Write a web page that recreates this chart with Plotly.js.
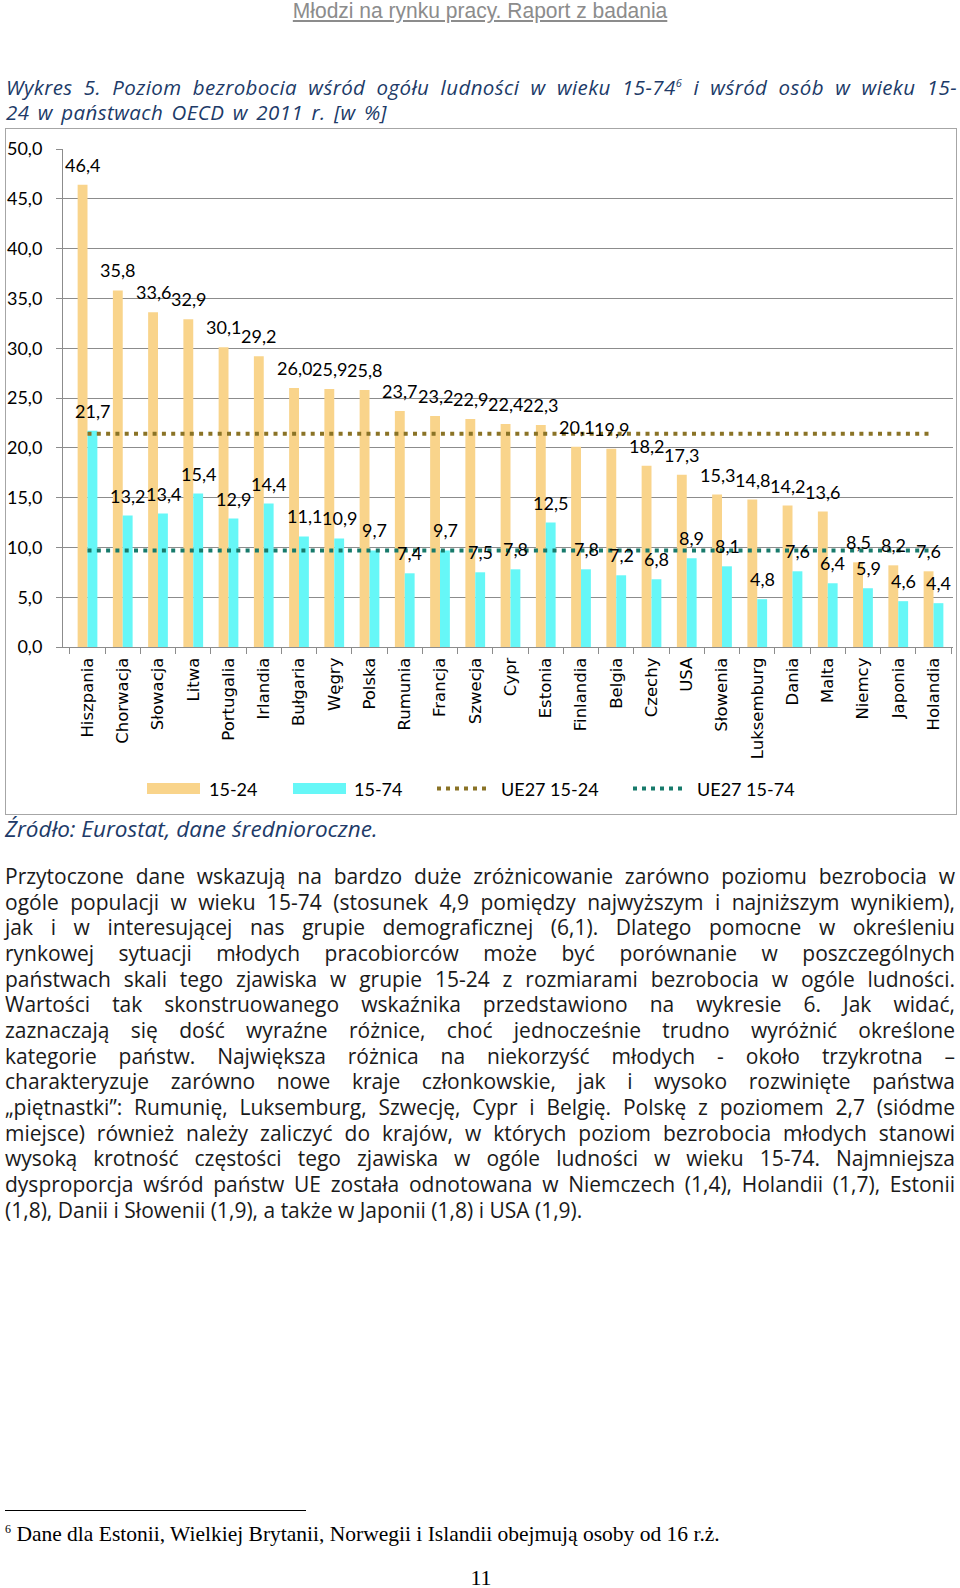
<!DOCTYPE html>
<html>
<head>
<meta charset="utf-8">
<script src="https://cdn.plot.ly/plotly-3.0.1.min.js"></script>
<style>
  html, body { margin: 0; padding: 0; background: #ffffff; }
  body { width: 960px; height: 1588px; position: relative; overflow: hidden; }
  .abs { position: absolute; }
  .jline { display: block; white-space: nowrap; }
  .jline span { display: inline-block; white-space: nowrap; }
  #header { left: 0; width: 960px; top: 0px; text-align: center; font-family: "Liberation Sans Narrow", "Liberation Sans", sans-serif; font-size: 22px; color: #8c8c8c; line-height: 22px; }
  #header span { text-decoration: underline; display: inline-block; transform: scaleX(0.955); }
  #title { left: 6px; top: 75px; width: 951px; font-family: "Open Sans", sans-serif; font-style: italic; font-size: 20.5px; letter-spacing: 0.4px; color: #203a68; line-height: 25px; }
  #title sup { font-size: 11px; line-height: 0; }
  #box { left: 5px; top: 128px; width: 952px; height: 687px; border: 1px solid #a6a6a6; box-sizing: border-box; }
  #chart { left: 5px; top: 129px; width: 952px; height: 686px; }
  #source { left: 5px; top: 815px; font-family: "Open Sans", sans-serif; font-style: italic; font-size: 22.5px; color: #203a68; line-height: 28px; white-space: nowrap; }
  #para { left: 5px; top: 864px; width: 950px; font-family: "Open Sans", sans-serif; font-size: 21px; color: #1a1a1a; line-height: 25.65px; }
  #fnline { left: 5px; top: 1510px; width: 301px; height: 0; border-top: 1px solid #000; }
  #footnote { left: 5px; top: 1521px; font-family: "Liberation Serif", serif; font-size: 21.5px; color: #000; line-height: 26px; white-space: nowrap; }
  #footnote sup { font-size: 12px; line-height: 0; }
  #pagenum { left: 0; width: 962px; top: 1565px; text-align: center; font-family: "Liberation Serif", serif; font-size: 22px; color: #000; line-height: 26px; }
</style>
</head>
<body>
<div id="header" class="abs"><span>Młodzi na rynku pracy. Raport z badania</span></div>
<div id="title" class="abs">
  <div class="jline" data-justify="951"><span>Wykres 5. Poziom bezrobocia wśród ogółu ludności w wieku 15-74<sup>6</sup> i wśród osób w wieku 15-</span></div>
  <div class="jline" data-justify="381"><span>24 w państwach OECD w 2011 r. [w %]</span></div>
</div>
<div id="box" class="abs"></div>
<div id="chart" class="abs"></div>
<div id="source" class="abs">Źródło: Eurostat, dane średnioroczne.</div>
<div id="para" class="abs"></div>
<div id="fnline" class="abs"></div>
<div id="footnote" class="abs"><sup>6</sup> Dane dla Estonii, Wielkiej Brytanii, Norwegii i Islandii obejmują osoby od 16 r.ż.</div>
<div id="pagenum" class="abs">11</div>

<script>
// ---------------- DATA ----------------
const categories = ["Hiszpania", "Chorwacja", "Słowacja", "Litwa", "Portugalia", "Irlandia", "Bułgaria", "Węgry", "Polska", "Rumunia", "Francja", "Szwecja", "Cypr", "Estonia", "Finlandia", "Belgia", "Czechy", "USA", "Słowenia", "Luksemburg", "Dania", "Malta", "Niemcy", "Japonia", "Holandia"];
const youth1524 = [46.4, 35.8, 33.6, 32.9, 30.1, 29.2, 26.0, 25.9, 25.8, 23.7, 23.2, 22.9, 22.4, 22.3, 20.1, 19.9, 18.2, 17.3, 15.3, 14.8, 14.2, 13.6, 8.5, 8.2, 7.6];
const total1574 = [21.7, 13.2, 13.4, 15.4, 12.9, 14.4, 11.1, 10.9, 9.7, 7.4, 9.7, 7.5, 7.8, 12.5, 7.8, 7.2, 6.8, 8.9, 8.1, 4.8, 7.6, 6.4, 5.9, 4.6, 4.4];
const ue27Youth = 21.4;
const ue27Total = 9.7;
const seriesNames = ["15-24", "15-74", "UE27 15-24", "UE27 15-74"];
const yTicks = [0, 5, 10, 15, 20, 25, 30, 35, 40, 45, 50];

const paragraphLines = [
  "Przytoczone dane wskazują na bardzo duże zróżnicowanie zarówno poziomu bezrobocia w",
  "ogóle populacji w wieku 15-74 (stosunek 4,9 pomiędzy najwyższym i najniższym wynikiem),",
  "jak i w interesującej nas grupie demograficznej (6,1). Dlatego pomocne w określeniu",
  "rynkowej sytuacji młodych pracobiorców może być porównanie w poszczególnych",
  "państwach skali tego zjawiska w grupie 15-24 z rozmiarami bezrobocia w ogóle ludności.",
  "Wartości tak skonstruowanego wskaźnika przedstawiono na wykresie 6. Jak widać,",
  "zaznaczają się dość wyraźne różnice, choć jednocześnie trudno wyróżnić określone",
  "kategorie państw. Największa różnica na niekorzyść młodych - około trzykrotna –",
  "charakteryzuje zarówno nowe kraje członkowskie, jak i wysoko rozwinięte państwa",
  "„piętnastki”: Rumunię, Luksemburg, Szwecję, Cypr i Belgię. Polskę z poziomem 2,7 (siódme",
  "miejsce) również należy zaliczyć do krajów, w których poziom bezrobocia młodych stanowi",
  "wysoką krotność częstości tego zjawiska w ogóle ludności w wieku 15-74. Najmniejsza",
  "dysproporcja wśród państw UE została odnotowana w Niemczech (1,4), Holandii (1,7), Estonii",
  "(1,8), Danii i Słowenii (1,9), a także w Japonii (1,8) i USA (1,9)."
];

// ---------------- STYLE ----------------
const colYouth = "#f9d48b";
const colTotal = "#66f7f7";
const colUeYouth = "#8a7326";
const colUeTotal = "#177a6b";
const gridCol = "#8c8c8c";
const labelFont = { family: "Lato, sans-serif", size: 18, color: "#000000" };

// plot area in page pixels (for legend placement only)
const PL = 63, PR = 953, PT = 149, PB = 647;
const px = X => (X - PL) / (PR - PL);
const py = Y => (PB - Y) / (PB - PT);

const fmt = v => v.toFixed(1).replace(".", ",");

const traces = [
  { type: "bar", name: seriesNames[0], x: categories, y: youth1524, marker: { color: colYouth, line: { width: 0 } }, showlegend: false, hoverinfo: "skip" },
  { type: "bar", name: seriesNames[1], x: categories, y: total1574, marker: { color: colTotal, line: { width: 0 } }, showlegend: false, hoverinfo: "skip" },
  { type: "scatter", mode: "lines", name: seriesNames[2], x: categories, y: categories.map(() => ue27Youth), line: { color: colUeYouth, width: 4, dash: "4px,5.3px" }, showlegend: false, hoverinfo: "skip" },
  { type: "scatter", mode: "lines", name: seriesNames[3], x: categories, y: categories.map(() => ue27Total), line: { color: colUeTotal, width: 4, dash: "4px,5.3px" }, showlegend: false, hoverinfo: "skip" }
];

const annotations = [];
categories.forEach((c, i) => {
  annotations.push({ x: c, y: youth1524[i], xref: "x", yref: "y", text: fmt(youth1524[i]), showarrow: false, xshift: -5, yshift: 20, yanchor: "middle", xanchor: "center", font: labelFont });
  annotations.push({ x: c, y: total1574[i], xref: "x", yref: "y", text: fmt(total1574[i]), showarrow: false, xshift: 5, yshift: 20, yanchor: "middle", xanchor: "center", font: labelFont });
});

// custom legend
const legY = 788.5;
const legendItems = [
  { kind: "rect", color: colYouth, x0: 147, x1: 200, tx: 207, text: seriesNames[0] },
  { kind: "rect", color: colTotal, x0: 293, x1: 346, tx: 352, text: seriesNames[1] },
  { kind: "dot", color: colUeYouth, x0: 437, x1: 490, tx: 499, text: seriesNames[2] },
  { kind: "dot", color: colUeTotal, x0: 633, x1: 686, tx: 695, text: seriesNames[3] }
];
const shapes = [];
legendItems.forEach(it => {
  if (it.kind === "rect") {
    shapes.push({ type: "rect", xref: "paper", yref: "paper", x0: px(it.x0), x1: px(it.x1), y0: py(legY + 5.5), y1: py(legY - 5.5), fillcolor: it.color, line: { width: 0 } });
  } else {
    shapes.push({ type: "line", xref: "paper", yref: "paper", x0: px(it.x0), x1: px(it.x1), y0: py(legY), y1: py(legY), line: { color: it.color, width: 4, dash: "4px,5px" } });
  }
  annotations.push({ xref: "paper", yref: "paper", x: px(it.tx), y: py(legY), xanchor: "left", yanchor: "middle", text: it.text, showarrow: false, font: labelFont });
});

const layout = {
  width: 952, height: 686,
  margin: { l: 58, r: 4, t: 20, b: 168, pad: 0 },
  paper_bgcolor: "rgba(0,0,0,0)",
  plot_bgcolor: "rgba(0,0,0,0)",
  separators: ", ",
  barmode: "group",
  bargap: 0.44,
  bargroupgap: 0,
  showlegend: false,
  xaxis: {
    type: "category",
    tickson: "boundaries",
    ticks: "outside", ticklen: 6, tickcolor: gridCol, tickwidth: 1,
    showline: true, linecolor: gridCol, linewidth: 1,
    showgrid: false,
    tickangle: -90,
    ticklabelstandoff: 3,
    tickfont: { family: "DejaVu Sans, sans-serif", size: 16.5, color: "#000000" },
    fixedrange: true
  },
  yaxis: {
    range: [0, 50],
    tickvals: yTicks,
    tickformat: ".1f",
    ticks: "outside", ticklen: 6, tickcolor: gridCol, tickwidth: 1,
    showline: true, linecolor: gridCol, linewidth: 1,
    showgrid: true, gridcolor: gridCol, gridwidth: 1,
    zeroline: false,
    ticklabelstandoff: 10,
    tickfont: labelFont,
    fixedrange: true
  },
  annotations: annotations,
  shapes: shapes
};

Plotly.newPlot("chart", traces, layout, { displayModeBar: false, staticPlot: true });

// ---------------- PAGE TEXT ----------------
const para = document.getElementById("para");
paragraphLines.forEach((t, i) => {
  const d = document.createElement("div");
  d.className = "jline";
  if (i < paragraphLines.length - 1) d.setAttribute("data-justify", "950");
  const s = document.createElement("span");
  s.textContent = t;
  d.appendChild(s);
  para.appendChild(d);
});

function justifyAll() {
  document.querySelectorAll(".jline[data-justify]").forEach(d => {
    const s = d.firstElementChild;
    s.style.wordSpacing = "0px";
    const target = parseFloat(d.getAttribute("data-justify"));
    const w = s.getBoundingClientRect().width;
    const n = (s.textContent.match(/ /g) || []).length;
    if (n > 0) s.style.wordSpacing = ((target - w) / n) + "px";
  });
}
justifyAll();
if (document.fonts && document.fonts.ready) document.fonts.ready.then(justifyAll);
</script>
</body>
</html>
